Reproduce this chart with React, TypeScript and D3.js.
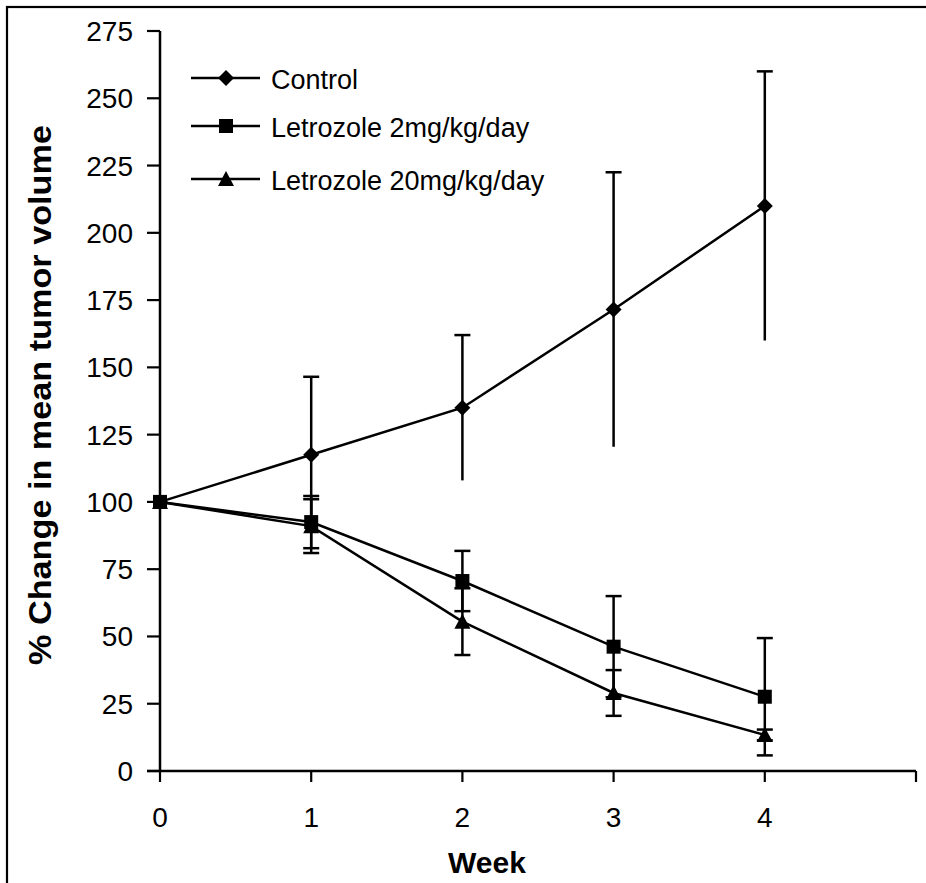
import React from "react";
import * as d3 from "d3";

const weeks = [0, 1, 2, 3, 4];
const xTicks = [0, 1, 2, 3, 4, 5];
const xTickLabels = ["0", "1", "2", "3", "4", ""];
const yTicks = [0, 25, 50, 75, 100, 125, 150, 175, 200, 225, 250, 275];

const seriesNames = ["Control", "Letrozole 2mg/kg/day", "Letrozole 20mg/kg/day"];
const controlValues = [100, 117.5, 135, 171.5, 210];
const controlErrors = [0, 29, 27, 51, 50];
const letro2Values = [100, 92.5, 70.6, 46.2, 27.6];
const letro2Errors = [0, 9.7, 11.2, 18.8, 21.8];
const letro20Values = [100, 91, 55.5, 29, 13.4];
const letro20Errors = [0, 10, 12.4, 8.5, 2];

const FONT = "'Liberation Sans', Arial, Helvetica, sans-serif";

type Shape = "diamond" | "square" | "triangle";

function Marker({ shape, x, y }: { shape: Shape; x: number; y: number }) {
  if (shape === "diamond") {
    const r = 8;
    return <path d={`M${x},${y - r}L${x + r},${y}L${x},${y + r}L${x - r},${y}Z`} fill="#000" />;
  }
  if (shape === "square") {
    const s = 14;
    return <rect x={x - s / 2} y={y - s / 2} width={s} height={s} fill="#000" />;
  }
  const w = 16, h = 14;
  return <path d={`M${x},${y - h / 2 - 1}L${x + w / 2},${y + h / 2}L${x - w / 2},${y + h / 2}Z`} fill="#000" />;
}

export default function App() {
  const x = d3.scaleLinear().domain([0, 5]).range([160, 916]);
  const y = d3.scaleLinear().domain([0, 275]).range([771, 31]);

  const series = [
    { name: seriesNames[0], values: controlValues, errors: controlErrors, shape: "diamond" as Shape, lowerCap: false },
    { name: seriesNames[1], values: letro2Values, errors: letro2Errors, shape: "square" as Shape, lowerCap: true },
    { name: seriesNames[2], values: letro20Values, errors: letro20Errors, shape: "triangle" as Shape, lowerCap: true },
  ];

  const line = d3
    .line<number>()
    .x((_, i) => x(weeks[i]))
    .y((d) => y(d));

  const capHalf = 8;
  const legendY = [78, 126, 179];

  return (
    <svg
      width={926}
      height={883}
      style={{ position: "absolute", left: 0, top: 0, background: "#fff" }}
      fontFamily={FONT}
    >
      <rect x={0} y={0} width={926} height={883} fill="#fff" />
      <rect x={7} y={7} width={940} height={900} fill="none" stroke="#000" strokeWidth={2.2} />

      {/* Y axis */}
      <line x1={x(0)} x2={x(0)} y1={y(275)} y2={y(0)} stroke="#000" strokeWidth={2.5} />
      {yTicks.map((t) => (
        <g key={"y" + t}>
          <line x1={x(0) - 13} x2={x(0)} y1={y(t)} y2={y(t)} stroke="#000" strokeWidth={2.2} />
          <text x={133} y={y(t) + 10} textAnchor="end" fontSize={28} fill="#000">
            {t}
          </text>
        </g>
      ))}

      {/* X axis */}
      <line x1={x(0) - 13} x2={x(5)} y1={y(0)} y2={y(0)} stroke="#000" strokeWidth={2.5} />
      {xTicks.map((t, i) => (
        <g key={"x" + t}>
          <line x1={x(t)} x2={x(t)} y1={y(0)} y2={y(0) + 11} stroke="#000" strokeWidth={2.2} />
          {xTickLabels[i] && (
            <text x={x(t)} y={y(0) + 56} textAnchor="middle" fontSize={28} fill="#000">
              {xTickLabels[i]}
            </text>
          )}
        </g>
      ))}

      {/* Axis titles */}
      <text x={487} y={873} textAnchor="middle" fontSize={30} fontWeight="bold" fill="#000">
        Week
      </text>
      <text
        transform="translate(51,395) rotate(-90)"
        textAnchor="middle"
        fontSize={31}
        fontWeight="bold"
        fill="#000"
        textLength={540}
        lengthAdjust="spacingAndGlyphs"
      >
        % Change in mean tumor volume
      </text>

      {/* Lines */}
      {series.map((s) => (
        <path key={"l" + s.name} d={line(s.values) || ""} fill="none" stroke="#000" strokeWidth={2.5} />
      ))}

      {/* Error bars */}
      {series.map((s) =>
        s.values.map((v, i) => {
          const e = s.errors[i];
          if (!e) return null;
          const cx = x(weeks[i]);
          const yt = y(v + e);
          const yb = y(v - e);
          return (
            <g key={"e" + s.name + i}>
              <line x1={cx} x2={cx} y1={yt} y2={yb} stroke="#000" strokeWidth={2.5} />
              <line x1={cx - capHalf} x2={cx + capHalf} y1={yt} y2={yt} stroke="#000" strokeWidth={2.5} />
              {s.lowerCap && (
                <line x1={cx - capHalf} x2={cx + capHalf} y1={yb} y2={yb} stroke="#000" strokeWidth={2.5} />
              )}
            </g>
          );
        })
      )}

      {/* Markers */}
      {series.map((s) =>
        s.values.map((v, i) => <Marker key={"m" + s.name + i} shape={s.shape} x={x(weeks[i])} y={y(v)} />)
      )}

      {/* Legend */}
      {series.map((s, i) => (
        <g key={"lg" + s.name}>
          <line x1={191} x2={260} y1={legendY[i]} y2={legendY[i]} stroke="#000" strokeWidth={2.5} />
          <Marker shape={s.shape} x={226} y={legendY[i]} />
          <text x={271} y={legendY[i] + 11} fontSize={27} fill="#000">
            {s.name}
          </text>
        </g>
      ))}
    </svg>
  );
}
